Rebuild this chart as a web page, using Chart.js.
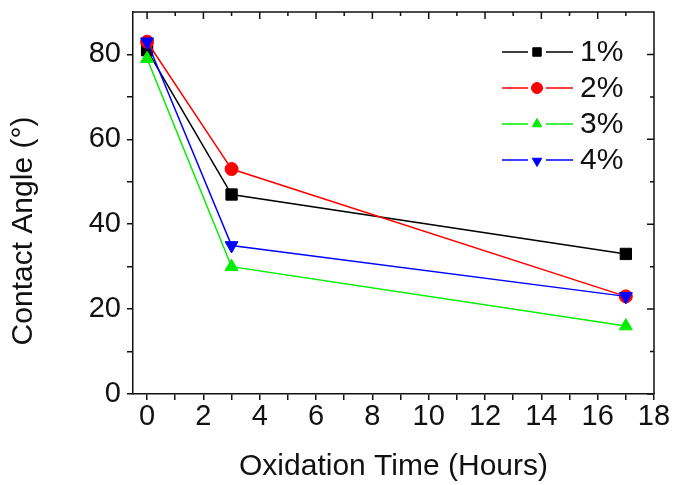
<!DOCTYPE html>
<html>
<head>
<meta charset="utf-8">
<script src="https://cdn.jsdelivr.net/npm/chart.js@4.4.1/dist/chart.umd.min.js"></script>
<style>
  html, body { margin: 0; padding: 0; background: #fff; }
</style>
</head>
<body>
<canvas id="angleChart" width="675" height="485"></canvas>
<script>
// oxidation time (hours) and contact angle (degrees) per concentration
const hours = [0, 3, 17];
const angle1 = [81, 47, 33];
const angle2 = [83, 53, 23];
const angle3 = [79, 30, 16];
const angle4 = [83, 35, 23];
const seriesLabels = ["1%", "2%", "3%", "4%"];
const xTicks = [0, 1, 2, 3, 4, 5, 6, 7, 8, 9, 10, 11, 12, 13, 14, 15, 16, 17, 18];
const yTicks = [0, 10, 20, 30, 40, 50, 60, 70, 80];

const FONT = "'Liberation Sans', Arial, sans-serif";
const INK = "#111";

function points(values) {
  return hours.map((h, i) => ({ x: h, y: values[i] }));
}

// top and right frame with inward ticks
const mirrorTicks = {
  id: "mirrorTicks",
  afterDraw(chart) {
    const ctx = chart.ctx;
    const a = chart.chartArea;
    const x = chart.scales.x;
    const y = chart.scales.y;
    ctx.save();
    ctx.strokeStyle = INK;
    ctx.lineWidth = 1.5;
    ctx.beginPath();
    ctx.moveTo(a.left, a.top);
    ctx.lineTo(a.right, a.top);
    ctx.lineTo(a.right, a.bottom);
    xTicks.forEach((v) => {
      const px = x.getPixelForValue(v);
      ctx.moveTo(px, a.top);
      ctx.lineTo(px, a.top + (v % 2 === 0 ? 7 : 4));
    });
    yTicks.forEach((v) => {
      const py = y.getPixelForValue(v);
      ctx.moveTo(a.right, py);
      ctx.lineTo(a.right - (v % 20 === 0 ? 7 : 4), py);
    });
    ctx.stroke();

    // y axis title, sits a bit below the middle in the original
    ctx.fillStyle = INK;
    ctx.font = "30px " + FONT;
    ctx.textAlign = "center";
    ctx.textBaseline = "middle";
    ctx.translate(24, 231);
    ctx.rotate(-Math.PI / 2);
    ctx.fillText("Contact Angle (°)", 0, 0);
    ctx.restore();
  },
};

// legend: line - marker - line, then label
const lineLegend = {
  id: "lineLegend",
  afterDatasetsDraw(chart) {
    const ctx = chart.ctx;
    chart.data.datasets.forEach((ds, i) => {
      const y = 52 + i * 36;
      ctx.save();
      ctx.strokeStyle = ds.borderColor;
      ctx.fillStyle = ds.backgroundColor;
      ctx.lineWidth = 1.5;
      ctx.beginPath();
      ctx.moveTo(502, y);
      ctx.lineTo(528, y);
      ctx.moveTo(546, y);
      ctx.lineTo(573, y);
      ctx.stroke();
      ctx.lineWidth = 1;
      Chart.helpers.drawPoint(
        ctx,
        {
          pointStyle: ds.pointStyle,
          rotation: ds.pointRotation || 0,
          radius: ds.pointStyle === "rect" ? 6 : 5.5,
          borderWidth: 1,
        },
        537,
        ds.pointRotation ? y + 1 : y
      );
      ctx.fillStyle = INK;
      ctx.font = "30px " + FONT;
      ctx.textAlign = "left";
      ctx.textBaseline = "middle";
      ctx.fillText(ds.label, 580, y + 1);
      ctx.restore();
    });
  },
};

// later series are drawn on top, as in the original
function makeSet(label, values, color, style, radius, rotation, order) {
  return {
    label: label,
    data: points(values),
    borderColor: color,
    backgroundColor: color,
    borderWidth: 1.5,
    pointStyle: style,
    pointRadius: radius,
    pointRotation: rotation,
    pointBorderWidth: 1,
    tension: 0,
    order: order,
  };
}

const ctx = document.getElementById("angleChart");

new Chart(ctx, {
  type: "line",
  data: {
    datasets: [
      makeSet(seriesLabels[0], angle1, "#000000", "rect", 8, 0, 3),
      makeSet(seriesLabels[1], angle2, "#ff0000", "circle", 6.5, 0, 2),
      makeSet(seriesLabels[2], angle3, "#00ee00", "triangle", 7.5, 0, 1),
      makeSet(seriesLabels[3], angle4, "#0000ff", "triangle", 7.5, 180, 0),
    ],
  },
  options: {
    responsive: false,
    animation: false,
    layout: {
      padding: { top: 12, right: 21, left: 0, bottom: 0 },
    },
    plugins: {
      legend: { display: false },
      tooltip: { enabled: false },
    },
    scales: {
      x: {
        type: "linear",
        position: "bottom",
        min: -0.5,
        max: 18,
        afterBuildTicks: (scale) => {
          scale.ticks = xTicks.map((v) => ({ value: v }));
        },
        afterFit: (scale) => {
          scale.height = 91;
          scale.paddingLeft = 0;
          scale.paddingRight = 0;
        },
        grid: {
          drawOnChartArea: false,
          drawTicks: true,
          tickLength: 6,
          color: INK,
          lineWidth: 1.5,
        },
        border: { display: true, color: INK, width: 1.5 },
        ticks: {
          autoSkip: false,
          maxRotation: 0,
          padding: 0,
          color: INK,
          font: { family: FONT, size: 29 },
          callback: (v) => (v % 2 === 0 ? String(v) : ""),
        },
        title: {
          display: true,
          text: "Oxidation Time (Hours)",
          color: INK,
          font: { family: FONT, size: 30 },
          padding: { top: 0, bottom: 0 },
        },
      },
      y: {
        type: "linear",
        position: "left",
        min: 0,
        max: 90,
        afterBuildTicks: (scale) => {
          scale.ticks = yTicks.map((v) => ({ value: v }));
        },
        afterFit: (scale) => {
          scale.width = 133;
          scale.paddingTop = 0;
          scale.paddingBottom = 0;
        },
        grid: {
          drawOnChartArea: false,
          drawTicks: true,
          tickLength: 6,
          color: INK,
          lineWidth: 1.5,
        },
        border: { display: true, color: INK, width: 1.5 },
        ticks: {
          autoSkip: false,
          padding: 6,
          color: INK,
          font: { family: FONT, size: 29 },
          callback: (v) => (v % 20 === 0 ? String(v) : ""),
        },
      },
    },
  },
  plugins: [mirrorTicks, lineLegend],
});
</script>
</body>
</html>
